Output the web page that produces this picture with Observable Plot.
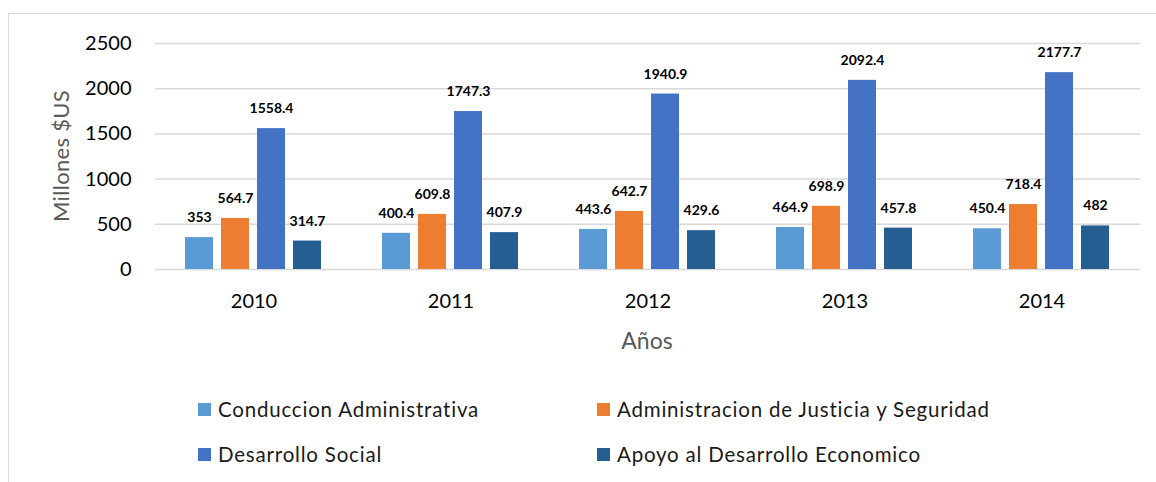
<!DOCTYPE html>
<html>
<head>
<meta charset="utf-8">
<script src="https://cdn.jsdelivr.net/npm/d3@7"></script>
<script src="https://cdn.jsdelivr.net/npm/@observablehq/plot@0.6"></script>
<style>
  html, body { margin: 0; padding: 0; background: #fff; }
  #wrap { position: relative; width: 1156px; height: 482px; overflow: hidden; font-family: Lato, "Open Sans", sans-serif; }
  #chart { position: absolute; left: 0; top: 0; }
  #frame { position: absolute; left: 8px; top: 13px; right: -2px; bottom: -2px; border-left: 1px solid #d9d9d9; border-top: 1px solid #d9d9d9; }
  .title { position: absolute; color: #595959; white-space: nowrap; }
  #ylab { left: 60px; top: 156px; font-size: 22px; letter-spacing: 0.3px; transform: translate(-50%, -50%) rotate(-90deg); }
  #xlab { left: 647px; top: 340px; font-size: 23px; transform: translate(-50%, -50%); }
  .leg { position: absolute; display: flex; align-items: center; font-size: 20.5px; letter-spacing: 0.8px; color: #1a1a1a; white-space: nowrap; transform: translateY(-50%); }
  .leg span.sw { display: inline-block; width: 13px; height: 13px; margin-right: 7px; }
</style>
</head>
<body>
<div id="wrap">
  <div id="chart"></div>
  <div id="frame"></div>
  <div id="ylab" class="title">Millones $US</div>
  <div id="xlab" class="title">Años</div>
  <div id="legend"></div>
</div>
<script>
const years = ["2010", "2011", "2012", "2013", "2014"];
const series = ["Conduccion Administrativa", "Administracion de Justicia y Seguridad", "Desarrollo Social", "Apoyo al Desarrollo Economico"];
const conduccion = [353, 400.4, 443.6, 464.9, 450.4];
const justicia = [564.7, 609.8, 642.7, 698.9, 718.4];
const social = [1558.4, 1747.3, 1940.9, 2092.4, 2177.7];
const apoyo = [314.7, 407.9, 429.6, 457.8, 482];
const colors = ["#5B9BD5", "#ED7D31", "#4472C4", "#255E91"];
const yTicks = [0, 500, 1000, 1500, 2000, 2500];

const valuesBySeries = [conduccion, justicia, social, apoyo];
const data = [];
years.forEach((yr, i) => {
  series.forEach((s, j) => {
    data.push({ year: yr, series: s, value: valuesBySeries[j][i] });
  });
});

const chart = Plot.plot({
  width: 1156,
  height: 360,
  marginTop: 43,
  marginBottom: 91,
  marginLeft: 154,
  marginRight: 16,
  style: { fontFamily: "Lato, 'Open Sans', sans-serif", fontSize: "20px", color: "#000", background: "transparent" },
  fx: { domain: years, paddingInner: 0, paddingOuter: 0, label: null, axis: "bottom", tickSize: 0, tickPadding: 24 },
  x: { domain: series, paddingInner: 0.22, paddingOuter: 0.845, axis: null },
  y: { domain: [0, 2500], ticks: yTicks, tickFormat: d => String(d), tickSize: 0, tickPadding: 24, label: null },
  color: { domain: series, range: colors },
  marks: [
    Plot.gridY(yTicks, { stroke: "#d9d9d9", strokeOpacity: 1, strokeWidth: 1.5 }),
    Plot.barY(data, { fx: "year", x: "series", y: "value", fill: "series" }),
    Plot.text(data, { fx: "year", x: "series", y: "value", text: d => String(d.value), dy: -20, fontWeight: "bold", fontSize: 14, fill: "#000" })
  ]
});
document.getElementById("chart").appendChild(chart);

const legendPos = [[198, 409], [597, 409], [198, 454], [597, 454]];
const legend = document.getElementById("legend");
series.forEach((s, i) => {
  const item = document.createElement("div");
  item.className = "leg";
  item.style.left = legendPos[i][0] + "px";
  item.style.top = legendPos[i][1] + "px";
  const sw = document.createElement("span");
  sw.className = "sw";
  sw.style.background = colors[i];
  item.appendChild(sw);
  item.appendChild(document.createTextNode(s));
  legend.appendChild(item);
});
</script>
</body>
</html>
